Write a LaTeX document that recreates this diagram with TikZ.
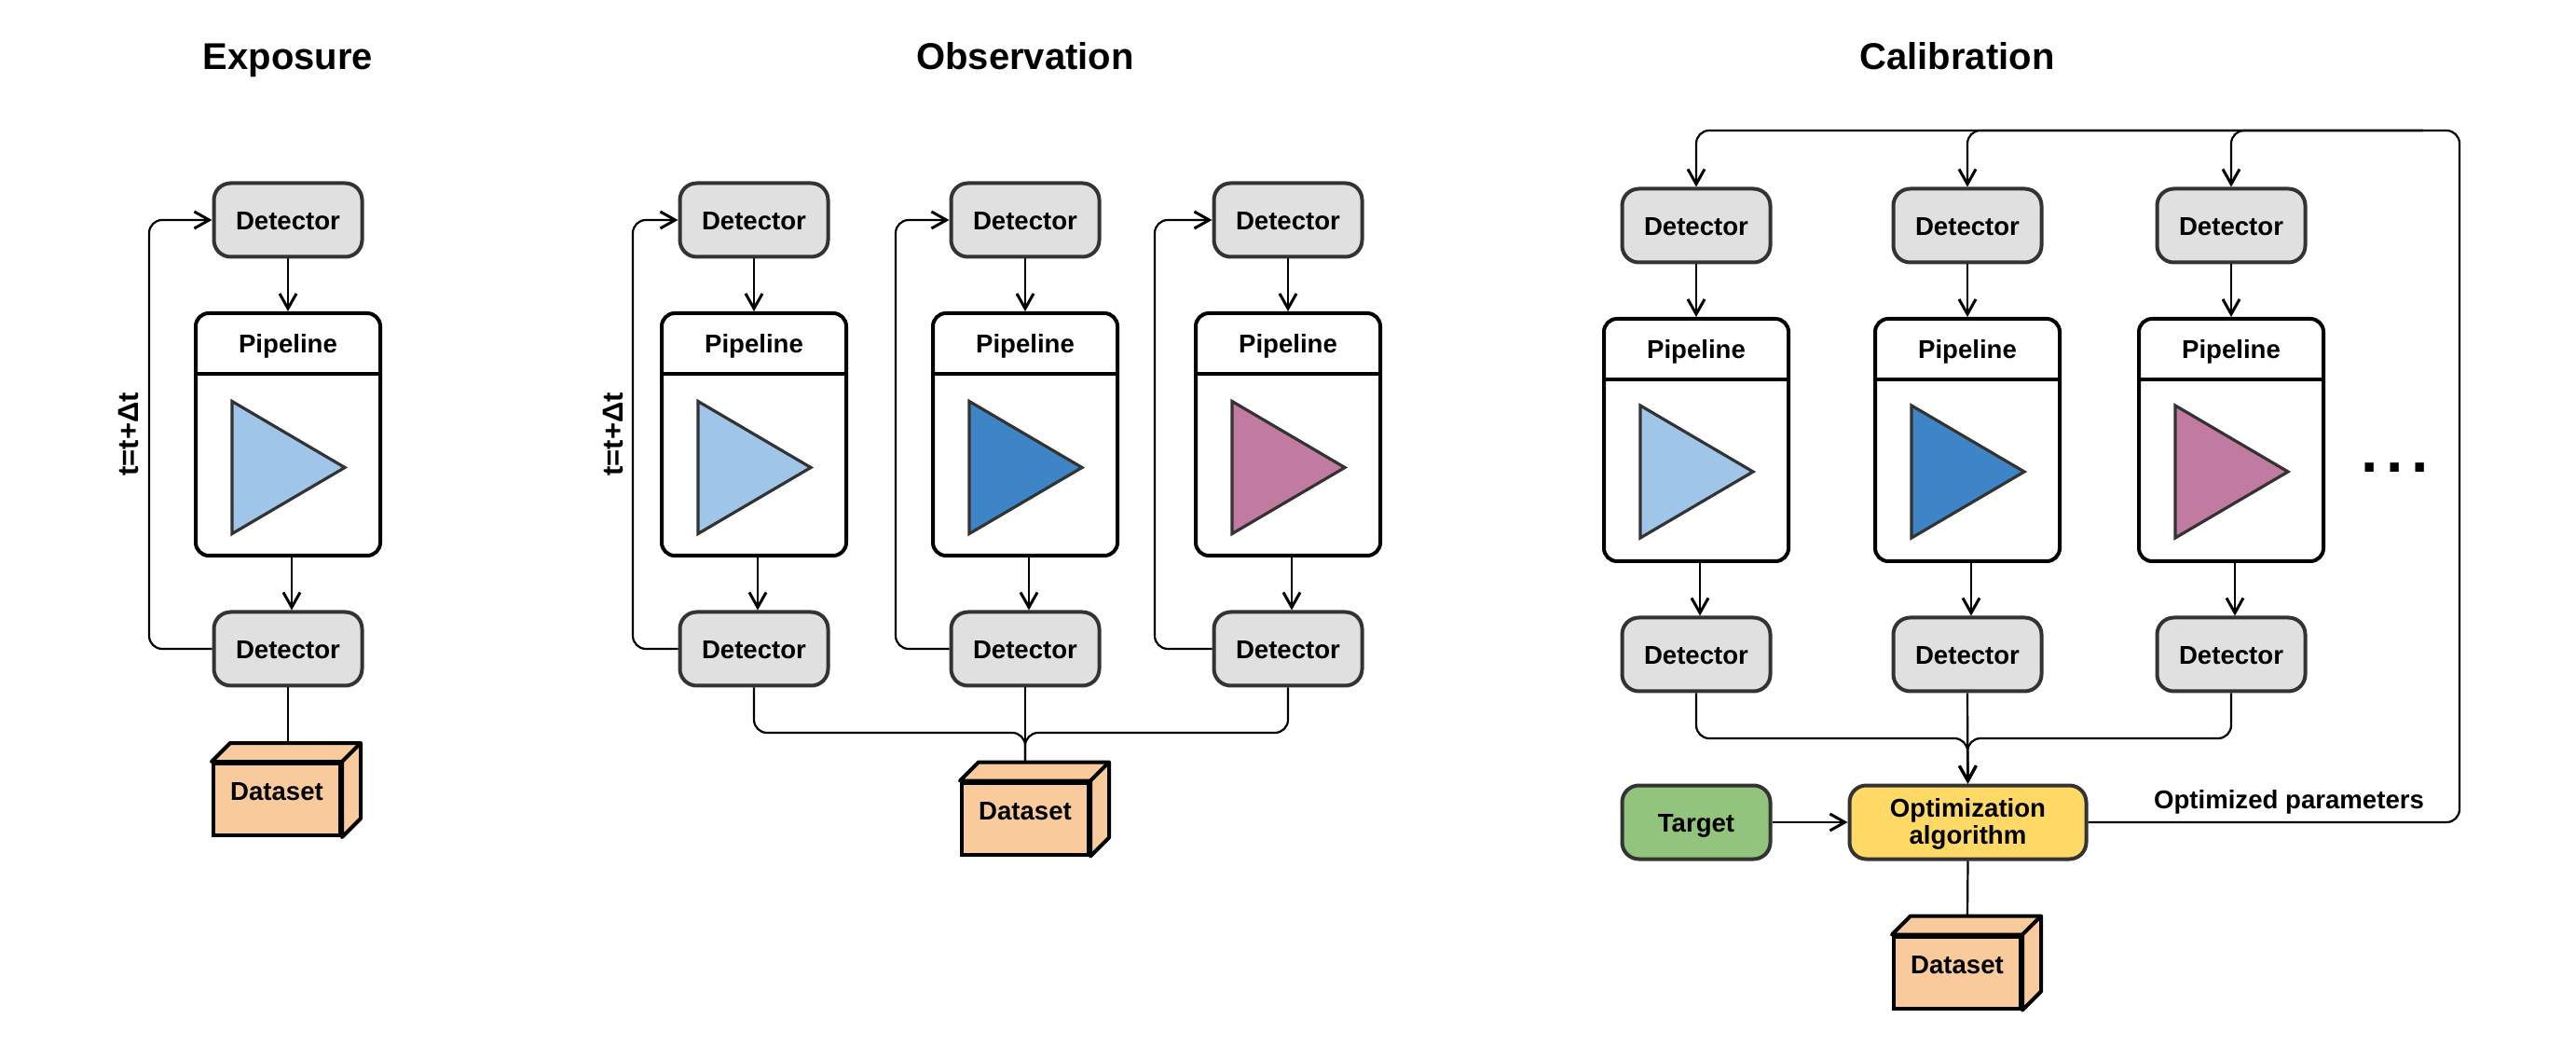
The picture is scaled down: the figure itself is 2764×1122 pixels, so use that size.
\documentclass[tikz,border=0pt]{standalone}
\usepackage{fontspec}
\setmainfont{Liberation Sans}
\usetikzlibrary{arrows.meta}
\definecolor{detgray}{HTML}{E0E0E0}
\definecolor{edgegray}{HTML}{333333}
\definecolor{lightblue}{HTML}{9FC5E8}
\definecolor{midblue}{HTML}{3D85C6}
\definecolor{mauve}{HTML}{C27BA0}
\definecolor{dataorange}{HTML}{F9CB9C}
\definecolor{targetgreen}{HTML}{93C47D}
\definecolor{optyellow}{HTML}{FFD966}
\begin{document}
\begin{tikzpicture}[x=0.5pt,y=-0.5pt,
  font=\bfseries\fontsize{13.8pt}{15pt}\selectfont,
  title/.style={font=\bfseries\fontsize{20pt}{24pt}\selectfont,text height=14.5pt,text depth=0.3pt},
  detbox/.style={draw=edgegray,line width=2pt,fill=detgray,rounded corners=9pt,minimum width=79.5pt,minimum height=39.5pt,inner sep=0pt,text height=11pt,text depth=0.2pt},
  pipebox/.style={draw=black,line width=2pt,rounded corners=7pt,minimum width=99pt,minimum height=130pt,inner sep=0pt},
  pipehead/.style={minimum width=100pt,minimum height=33pt,inner sep=0pt,anchor=north,text height=14pt,text depth=3pt},
  tri/.style={draw=edgegray,line width=1.6pt},
  dsbox/.style={draw=black,line width=2pt,fill=dataorange,minimum width=68pt,minimum height=38.5pt,inner sep=0pt,text height=10pt,text depth=9pt},
  dsside/.style={draw=black,line width=2pt,fill=dataorange,line join=round},
  conn/.style={draw=black,line width=1.1pt,rounded corners=7pt},
  arr/.style={conn,-{Straight Barb[length=8pt,width=9pt,line width=1.5pt]}}]
\useasboundingbox (0,0) rectangle (2764,1122);
%titles
\node[title] (ttl1) at (309,60) {Exposure};
\node[title] (ttl2) at (1100,60) {Observation};
\node[title] (ttl3) at (2100,60) {Calibration};
%exposure
\node[detbox] (det1t) at (309,236) {Detector};
\node[pipebox] (pipe1) at (309,466) {};
\node[pipehead] (head1) at (pipe1.north) {Pipeline};
\draw[line width=2pt] (head1.south west) -- (head1.south east);
\filldraw[tri,fill=lightblue] (249,430.5) -- (249,572.5) -- (370,501.5) -- cycle;
\node[detbox] (det1b) at (309,696) {Detector};
\coordinate (loop1) at (160,466);
\draw[arr] (det1t) -- (pipe1);
\draw[arr] ([xshift=2pt]pipe1.south) -- ([xshift=2pt]det1b.north);
\draw[arr] (det1b.west) -| (loop1) |- (det1t.west);
\node[rotate=90,font=\bfseries\fontsize{15.5pt}{15.5pt}\selectfont] (lab1) at (138,466) {t=t+Δt};
\node[dsbox] (ds1) at (297,857.5) {Dataset};
\filldraw[dsside] (ds1.north west) -- ++(20,-20) -- ++(140,0) -- ++(0,81) -- (ds1.south east) -- (ds1.north east) -- cycle;
\draw[dsside] (ds1.north east) -- ++(20,-20);
\coordinate (top1) at (309,797);
\draw[conn] (det1b.south) -- (top1);
%observation
\node[detbox] (det2t) at (809,236) {Detector};
\node[pipebox] (pipe2) at (809,466) {};
\node[pipehead] (head2) at (pipe2.north) {Pipeline};
\draw[line width=2pt] (head2.south west) -- (head2.south east);
\filldraw[tri,fill=lightblue] (749,430.5) -- (749,572.5) -- (870,501.5) -- cycle;
\node[detbox] (det2b) at (809,696) {Detector};
\coordinate (loop2) at (679,466);
\draw[arr] (det2t) -- (pipe2);
\draw[arr] ([xshift=2pt]pipe2.south) -- ([xshift=2pt]det2b.north);
\draw[arr] (det2b.west) -| (loop2) |- (det2t.west);
\node[rotate=90,font=\bfseries\fontsize{15.5pt}{15.5pt}\selectfont] (lab2) at (658,466) {t=t+Δt};
\node[detbox] (det3t) at (1100,236) {Detector};
\node[pipebox] (pipe3) at (1100,466) {};
\node[pipehead] (head3) at (pipe3.north) {Pipeline};
\draw[line width=2pt] (head3.south west) -- (head3.south east);
\filldraw[tri,fill=midblue] (1040,430.5) -- (1040,572.5) -- (1161,501.5) -- cycle;
\node[detbox] (det3b) at (1100,696) {Detector};
\coordinate (loop3) at (961,466);
\draw[arr] (det3t) -- (pipe3);
\draw[arr] ([xshift=2pt]pipe3.south) -- ([xshift=2pt]det3b.north);
\draw[arr] (det3b.west) -| (loop3) |- (det3t.west);
\node[detbox] (det4t) at (1382,236) {Detector};
\node[pipebox] (pipe4) at (1382,466) {};
\node[pipehead] (head4) at (pipe4.north) {Pipeline};
\draw[line width=2pt] (head4.south west) -- (head4.south east);
\filldraw[tri,fill=mauve] (1322,430.5) -- (1322,572.5) -- (1443,501.5) -- cycle;
\node[detbox] (det4b) at (1382,696) {Detector};
\coordinate (loop4) at (1239,466);
\draw[arr] (det4t) -- (pipe4);
\draw[arr] ([xshift=2pt]pipe4.south) -- ([xshift=2pt]det4b.north);
\draw[arr] (det4b.west) -| (loop4) |- (det4t.west);
\node[dsbox] (ds2) at (1100,878) {Dataset};
\filldraw[dsside] (ds2.north west) -- ++(20,-20) -- ++(140,0) -- ++(0,81) -- (ds2.south east) -- (ds2.north east) -- cycle;
\draw[dsside] (ds2.north east) -- ++(20,-20);
\coordinate (merge2) at (1100,786);
\coordinate (top2) at (1100,817);
\draw[conn] (det2b.south) |- (merge2) -- (top2);
\draw[conn] (det4b.south) |- (merge2) -- (top2);
\draw[conn] (det3b.south) -- (top2);
%calibration
\coordinate (fbtop) at (2639,140);
\coordinate (fbmid) at (2600,140);
\node[detbox] (det5t) at (1820,242) {Detector};
\node[pipebox] (pipe5) at (1820,472) {};
\node[pipehead] (head5) at (pipe5.north) {Pipeline};
\draw[line width=2pt] (head5.south west) -- (head5.south east);
\filldraw[tri,fill=lightblue] (1760,435) -- (1760,577) -- (1881,506) -- cycle;
\node[detbox] (det5b) at (1820,702) {Detector};
\draw[arr] (det5t) -- (pipe5);
\draw[arr] ([xshift=2pt]pipe5.south) -- ([xshift=2pt]det5b.north);
\node[detbox] (det6t) at (2111,242) {Detector};
\node[pipebox] (pipe6) at (2111,472) {};
\node[pipehead] (head6) at (pipe6.north) {Pipeline};
\draw[line width=2pt] (head6.south west) -- (head6.south east);
\filldraw[tri,fill=midblue] (2051,435) -- (2051,577) -- (2172,506) -- cycle;
\node[detbox] (det6b) at (2111,702) {Detector};
\draw[arr] (det6t) -- (pipe6);
\draw[arr] ([xshift=2pt]pipe6.south) -- ([xshift=2pt]det6b.north);
\node[detbox] (det7t) at (2394,242) {Detector};
\node[pipebox] (pipe7) at (2394,472) {};
\node[pipehead] (head7) at (pipe7.north) {Pipeline};
\draw[line width=2pt] (head7.south west) -- (head7.south east);
\filldraw[tri,fill=mauve] (2334,435) -- (2334,577) -- (2455,506) -- cycle;
\node[detbox] (det7b) at (2394,702) {Detector};
\draw[arr] (det7t) -- (pipe7);
\draw[arr] ([xshift=2pt]pipe7.south) -- ([xshift=2pt]det7b.north);
\node[anchor=base] (dots) at (2570,507) {\fontsize{33pt}{33pt}\selectfont.\kern4.3pt.\kern4.3pt.};
\node[detbox,fill=targetgreen] (target) at (1820,882) {Target};
\node[detbox,fill=optyellow,minimum width=127pt,text height=,text depth=,align=center,font=\bfseries\fontsize{13.8pt}{14.5pt}\selectfont] (opt) at (2111.5,882) {\rule{0pt}{11.8pt}Optimization\\algorithm};
\coordinate (merge3) at (2111,792);
\draw[arr] (det5b.south) |- (merge3) -- (opt.north);
\draw[arr] (det7b.south) |- (merge3) -- (opt.north);
\draw[arr] (det6b.south) -- (opt.north);
\draw[arr] (target) -- (opt);
\draw[arr] (opt.east) -| (fbtop) -| (det5t.north);
\draw[arr] (fbmid) -| (det6t.north);
\draw[arr] (fbmid) -| (det7t.north);
\node (optlab) at (2456,860) {Optimized parameters};
\node[dsbox] (ds3) at (2100,1043) {Dataset};
\filldraw[dsside] (ds3.north west) -- ++(20,-20) -- ++(140,0) -- ++(0,81) -- (ds3.south east) -- (ds3.north east) -- cycle;
\draw[dsside] (ds3.north east) -- ++(20,-20);
\coordinate (top3) at (2111,983);
\draw[conn] (opt.south) -- (top3);
\end{tikzpicture}
\end{document}
